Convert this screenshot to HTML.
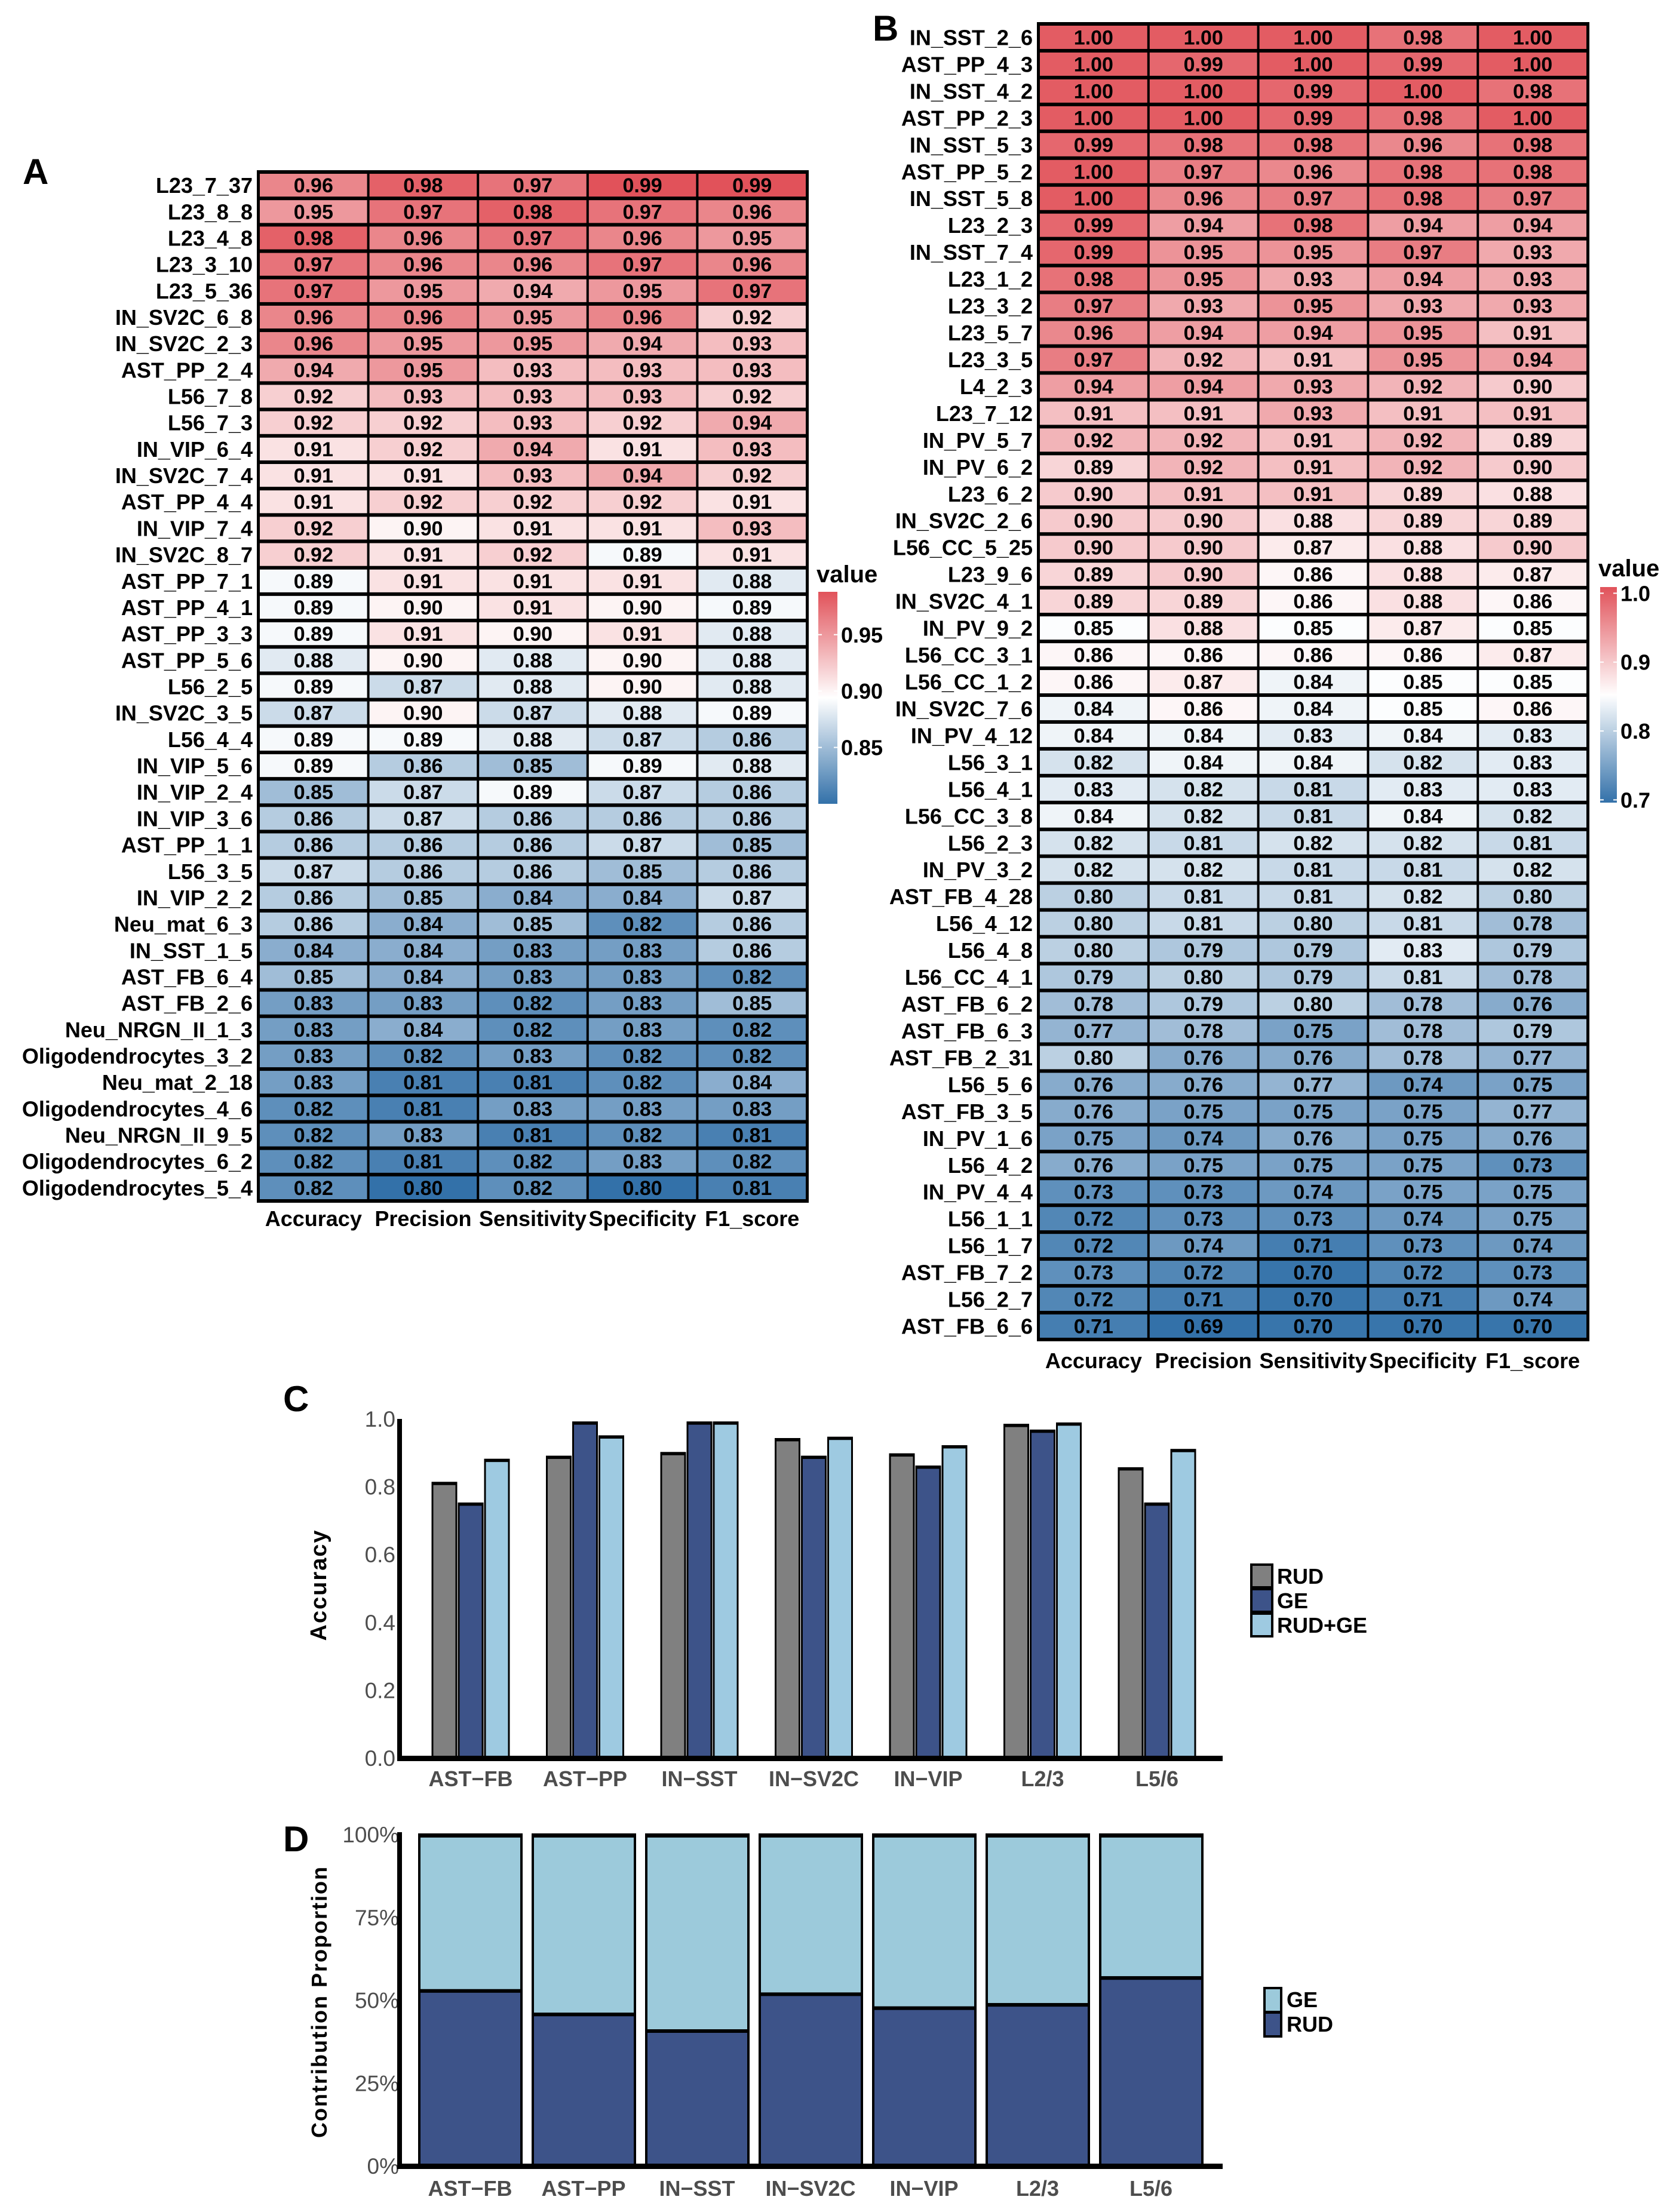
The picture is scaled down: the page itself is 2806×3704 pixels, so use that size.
<!DOCTYPE html>
<html><head><meta charset="utf-8">
<style>
html,body{margin:0;padding:0;background:#fff;}
svg{display:block;font-family:"Liberation Sans",Arial,sans-serif;}
</style></head>
<body>
<svg id="fig" width="2806" height="3704" viewBox="0 0 2806 3704" xmlns="http://www.w3.org/2000/svg">
<rect width="2806" height="3704" fill="#fff"/>
<g id="gA"></g>
<g id="gB"></g>
<g id="gC"></g>
<g id="gD"></g>
<text x="38" y="308" font-size="60" font-weight="bold">A</text>
<text x="1461" y="68" font-size="60" font-weight="bold">B</text>
<text x="474" y="2363" font-size="60" font-weight="bold">C</text>
<text x="474" y="3100" font-size="60" font-weight="bold">D</text>
</svg>
<script>
const NS="http://www.w3.org/2000/svg";
const metrics=["Accuracy","Precision","Sensitivity","Specificity","F1_score"];
const rowsA=["L23_7_37","L23_8_8","L23_4_8","L23_3_10","L23_5_36","IN_SV2C_6_8","IN_SV2C_2_3","AST_PP_2_4","L56_7_8","L56_7_3","IN_VIP_6_4","IN_SV2C_7_4","AST_PP_4_4","IN_VIP_7_4","IN_SV2C_8_7","AST_PP_7_1","AST_PP_4_1","AST_PP_3_3","AST_PP_5_6","L56_2_5","IN_SV2C_3_5","L56_4_4","IN_VIP_5_6","IN_VIP_2_4","IN_VIP_3_6","AST_PP_1_1","L56_3_5","IN_VIP_2_2","Neu_mat_6_3","IN_SST_1_5","AST_FB_6_4","AST_FB_2_6","Neu_NRGN_II_1_3","Oligodendrocytes_3_2","Neu_mat_2_18","Oligodendrocytes_4_6","Neu_NRGN_II_9_5","Oligodendrocytes_6_2","Oligodendrocytes_5_4"];
const valsA=[[.96,.98,.97,.99,.99],[.95,.97,.98,.97,.96],[.98,.96,.97,.96,.95],[.97,.96,.96,.97,.96],[.97,.95,.94,.95,.97],[.96,.96,.95,.96,.92],[.96,.95,.95,.94,.93],[.94,.95,.93,.93,.93],[.92,.93,.93,.93,.92],[.92,.92,.93,.92,.94],[.91,.92,.94,.91,.93],[.91,.91,.93,.94,.92],[.91,.92,.92,.92,.91],[.92,.90,.91,.91,.93],[.92,.91,.92,.89,.91],[.89,.91,.91,.91,.88],[.89,.90,.91,.90,.89],[.89,.91,.90,.91,.88],[.88,.90,.88,.90,.88],[.89,.87,.88,.90,.88],[.87,.90,.87,.88,.89],[.89,.89,.88,.87,.86],[.89,.86,.85,.89,.88],[.85,.87,.89,.87,.86],[.86,.87,.86,.86,.86],[.86,.86,.86,.87,.85],[.87,.86,.86,.85,.86],[.86,.85,.84,.84,.87],[.86,.84,.85,.82,.86],[.84,.84,.83,.83,.86],[.85,.84,.83,.83,.82],[.83,.83,.82,.83,.85],[.83,.84,.82,.83,.82],[.83,.82,.83,.82,.82],[.83,.81,.81,.82,.84],[.82,.81,.83,.83,.83],[.82,.83,.81,.82,.81],[.82,.81,.82,.83,.82],[.82,.80,.82,.80,.81]];
const rowsB=["IN_SST_2_6","AST_PP_4_3","IN_SST_4_2","AST_PP_2_3","IN_SST_5_3","AST_PP_5_2","IN_SST_5_8","L23_2_3","IN_SST_7_4","L23_1_2","L23_3_2","L23_5_7","L23_3_5","L4_2_3","L23_7_12","IN_PV_5_7","IN_PV_6_2","L23_6_2","IN_SV2C_2_6","L56_CC_5_25","L23_9_6","IN_SV2C_4_1","IN_PV_9_2","L56_CC_3_1","L56_CC_1_2","IN_SV2C_7_6","IN_PV_4_12","L56_3_1","L56_4_1","L56_CC_3_8","L56_2_3","IN_PV_3_2","AST_FB_4_28","L56_4_12","L56_4_8","L56_CC_4_1","AST_FB_6_2","AST_FB_6_3","AST_FB_2_31","L56_5_6","AST_FB_3_5","IN_PV_1_6","L56_4_2","IN_PV_4_4","L56_1_1","L56_1_7","AST_FB_7_2","L56_2_7","AST_FB_6_6"];
const valsB=[[1,1,1,.98,1],[1,.99,1,.99,1],[1,1,.99,1,.98],[1,1,.99,.98,1],[.99,.98,.98,.96,.98],[1,.97,.96,.98,.98],[1,.96,.97,.98,.97],[.99,.94,.98,.94,.94],[.99,.95,.95,.97,.93],[.98,.95,.93,.94,.93],[.97,.93,.95,.93,.93],[.96,.94,.94,.95,.91],[.97,.92,.91,.95,.94],[.94,.94,.93,.92,.90],[.91,.91,.93,.91,.91],[.92,.92,.91,.92,.89],[.89,.92,.91,.92,.90],[.90,.91,.91,.89,.88],[.90,.90,.88,.89,.89],[.90,.90,.87,.88,.90],[.89,.90,.86,.88,.87],[.89,.89,.86,.88,.86],[.85,.88,.85,.87,.85],[.86,.86,.86,.86,.87],[.86,.87,.84,.85,.85],[.84,.86,.84,.85,.86],[.84,.84,.83,.84,.83],[.82,.84,.84,.82,.83],[.83,.82,.81,.83,.83],[.84,.82,.81,.84,.82],[.82,.81,.82,.82,.81],[.82,.82,.81,.81,.82],[.80,.81,.81,.82,.80],[.80,.81,.80,.81,.78],[.80,.79,.79,.83,.79],[.79,.80,.79,.81,.78],[.78,.79,.80,.78,.76],[.77,.78,.75,.78,.79],[.80,.76,.76,.78,.77],[.76,.76,.77,.74,.75],[.76,.75,.75,.75,.77],[.75,.74,.76,.75,.76],[.76,.75,.75,.75,.73],[.73,.73,.74,.75,.75],[.72,.73,.73,.74,.75],[.72,.74,.71,.73,.74],[.73,.72,.70,.72,.73],[.72,.71,.70,.71,.74],[.71,.69,.70,.70,.70]];
const ticksA=[0.85,0.90,0.95];
const ticksB=[0.7,0.8,0.9,1.0];
const cellTypes=["AST\u2212FB","AST\u2212PP","IN\u2212SST","IN\u2212SV2C","IN\u2212VIP","L2/3","L5/6"];
const accRUD=[0.812,0.889,0.900,0.941,0.896,0.983,0.855];
const accGE=[0.751,0.990,0.990,0.889,0.860,0.966,0.751];
const accBoth=[0.880,0.949,0.990,0.945,0.920,0.987,0.909];
const accTicks=[0,0.2,0.4,0.6,0.8,1.0];
const propRUD=[0.53,0.459,0.409,0.52,0.478,0.488,0.569];
const propTicks=[0,0.25,0.5,0.75,1.0];

function mk(tag,attrs,parent,txt){const e=document.createElementNS(NS,tag);for(const k in attrs)e.setAttribute(k,attrs[k]);if(txt!==undefined)e.textContent=txt;parent.appendChild(e);return e;}
function hex(c){return [parseInt(c.slice(1,3),16),parseInt(c.slice(3,5),16),parseInt(c.slice(5,7),16)];}
const LO=hex("#3371a9"),MID=[255,255,255],HI=hex("#e1525a");
function colorFn(lo,mid,hi){return v=>{let a,b,t;if(v<=mid){t=Math.max(0,(v-lo)/(mid-lo));a=LO;b=MID;}else{t=Math.min(1,(v-mid)/(hi-mid));a=MID;b=HI;}return "rgb("+a.map((x,i)=>Math.round(x+(b[i]-x)*t)).join(",")+")";};}

function heat(g,rows,vals,x0,y0,w,h,lo,mid,hi,labY){
  const cw=w/5,rh=h/rows.length,col=colorFn(lo,mid,hi);
  mk("rect",{x:x0-3,y:y0-3,width:w+6,height:h+6,fill:"#000"},g);
  rows.forEach((r,i)=>{
    const lt=mk("text",{x:x0-10,y:y0+rh*i+rh/2+13,"text-anchor":"end","font-size":36,"font-weight":"bold"},g,r);
    
    
    vals[i].forEach((v,j)=>{
      const c=mk("rect",{x:x0+cw*j+2,y:y0+rh*i+3,width:cw-4,height:rh-6,fill:col(v)},g);
      
      
      const t=mk("text",{x:x0+cw*j+cw/2,y:y0+rh*i+rh/2+12,"text-anchor":"middle","font-size":34,"font-weight":"bold"},g,v.toFixed(2));
      
      
    });
  });
  metrics.forEach((m,j)=>{
    const t=mk("text",{x:x0+cw*j+cw/2,y:labY,"text-anchor":"middle","font-size":36,"font-weight":"bold"},g,m);
    
    
  });
}
function colorbar(g,x,y0,y1,w,lo,mid,hi,ticks,id,dec,titleY){
  const gr=mk("linearGradient",{id:id,x1:0,y1:1,x2:0,y2:0},g);
  const f=colorFn(lo,mid,hi);
  for(let k=0;k<=20;k++){const v=lo+(hi-lo)*k/20;mk("stop",{offset:k/20,"stop-color":f(v)},gr);}
  const r=mk("rect",{x:x,y:y0,width:w,height:y1-y0,fill:"url(#"+id+")"},g);
  
  
  const t0=mk("text",{x:x-3,y:titleY,"font-size":40,"font-weight":"bold"},g,"value");
  
  
  ticks.forEach(v=>{const yy=y1-(v-lo)/(hi-lo)*(y1-y0);
    mk("line",{x1:x,x2:x+6,y1:yy,y2:yy,stroke:"#fff","stroke-width":2},g);
    mk("line",{x1:x+w-6,x2:x+w,y1:yy,y2:yy,stroke:"#fff","stroke-width":2},g);
    const t=mk("text",{x:x+w+6,y:yy+13,"font-size":36,"font-weight":"bold"},g,v.toFixed(dec));
    
    
  });
}
const gA=document.getElementById("gA"),gB=document.getElementById("gB");
heat(gA,rowsA,valsA,433,288,918,1723,0.80,0.894,0.988,2053);
colorbar(gA,1370,991,1346,32,0.80,0.894,0.988,ticksA,"cbA",2,975);
heat(gB,rowsB,valsB,1739,40,919,2203,0.696,0.852,1.009,2291);
colorbar(gB,2679,983,1344,28,0.696,0.852,1.009,ticksB,"cbB",1,965);

// Panel C
const gC=document.getElementById("gC");
const cY0=2944,cY1=2376,yC=v=>cY0-(v)*(cY0-cY1);
const xC=i=>788+i*191.5;
const series=[[accRUD,"#808080","bar-rud"],[accGE,"#3d5389","bar-ge"],[accBoth,"#9ecae1","bar-rud-ge"]];
cellTypes.forEach((c,i)=>{
  series.forEach((s,k)=>{
    const x=xC(i)+(k-1)*44-20,y=yC(s[0][i]);
    const b=mk("rect",{x:x,y:y,width:40,height:cY0-y,fill:s[1],stroke:"#000","stroke-width":3},gC);
    
    
    mk("rect",{x:x-1,y:y-1,width:42,height:5,fill:"#000"},gC);
  });
  const t=mk("text",{x:xC(i),y:2991,"text-anchor":"middle","font-size":36,"font-weight":"bold",fill:"#4d4d4d"},gC,c);
  
  
});
accTicks.forEach(v=>{const t=mk("text",{x:662,y:yC(v)+13,"text-anchor":"end","font-size":37,fill:"#4d4d4d"},gC,v.toFixed(1));
  
  });
mk("rect",{x:665,y:2376,width:8,height:572,fill:"#000"},gC);
mk("rect",{x:665,y:2940,width:1382,height:9,fill:"#000"},gC);
const tc=mk("text",{x:0,y:0,transform:"translate(546,2654) rotate(-90)","text-anchor":"middle","font-size":38,"font-weight":"bold","letter-spacing":"2"},gC,"Accuracy");


[["RUD","#808080",2618],["GE","#3d5389",2659],["RUD+GE","#9ecae1",2700]].forEach(l=>{
  const r=mk("rect",{x:2095,y:l[2]+2,width:35,height:38,fill:l[1],stroke:"#000","stroke-width":4},gC);
  
  
  const t=mk("text",{x:2138,y:l[2]+34,"font-size":36,"font-weight":"bold"},gC,l[0]);
  
  
});

// Panel D
const gD=document.getElementById("gD");
const dY0=3627,dY1=3072,yD=v=>dY0-v*(dY0-dY1);
const xD=i=>702+i*190;
cellTypes.forEach((c,i)=>{
  const g1=mk("rect",{x:xD(i),y:dY1,width:171,height:dY0-dY1,fill:"#9ccadb",stroke:"#000","stroke-width":4},gD);
  
  
  mk("rect",{x:xD(i)-2,y:dY1-2,width:175,height:7,fill:"#000"},gD);
  const yy=yD(propRUD[i]);
  const r=mk("rect",{x:xD(i),y:yy,width:171,height:dY0-yy,fill:"#3d5389",stroke:"#000","stroke-width":4},gD);
  
  
  mk("rect",{x:xD(i)-2,y:yy-2,width:175,height:6,fill:"#000"},gD);
  const t=mk("text",{x:xD(i)+85,y:3677,"text-anchor":"middle","font-size":36,"font-weight":"bold",fill:"#4d4d4d"},gD,c);
  
  
});
propTicks.forEach(v=>{const t=mk("text",{x:668,y:yD(v)+13,"text-anchor":"end","font-size":37,fill:"#4d4d4d"},gD,Math.round(v*100)+"%");
  
  });
mk("rect",{x:665,y:3068,width:8,height:563,fill:"#000"},gD);
mk("rect",{x:665,y:3623,width:1382,height:9,fill:"#000"},gD);
const td=mk("text",{x:0,y:0,transform:"translate(547,3352) rotate(-90)","text-anchor":"middle","font-size":36,"font-weight":"bold","letter-spacing":"2"},gD,"Contribution Proportion");


[["GE","#9ccadb",3327],["RUD","#3d5389",3368]].forEach(l=>{
  const r=mk("rect",{x:2117,y:l[2]+2,width:28,height:40,fill:l[1],stroke:"#000","stroke-width":4},gD);
  
  
  const t=mk("text",{x:2154,y:l[2]+34,"font-size":36,"font-weight":"bold"},gD,l[0]);
  
  
});
</script>
</body></html>
